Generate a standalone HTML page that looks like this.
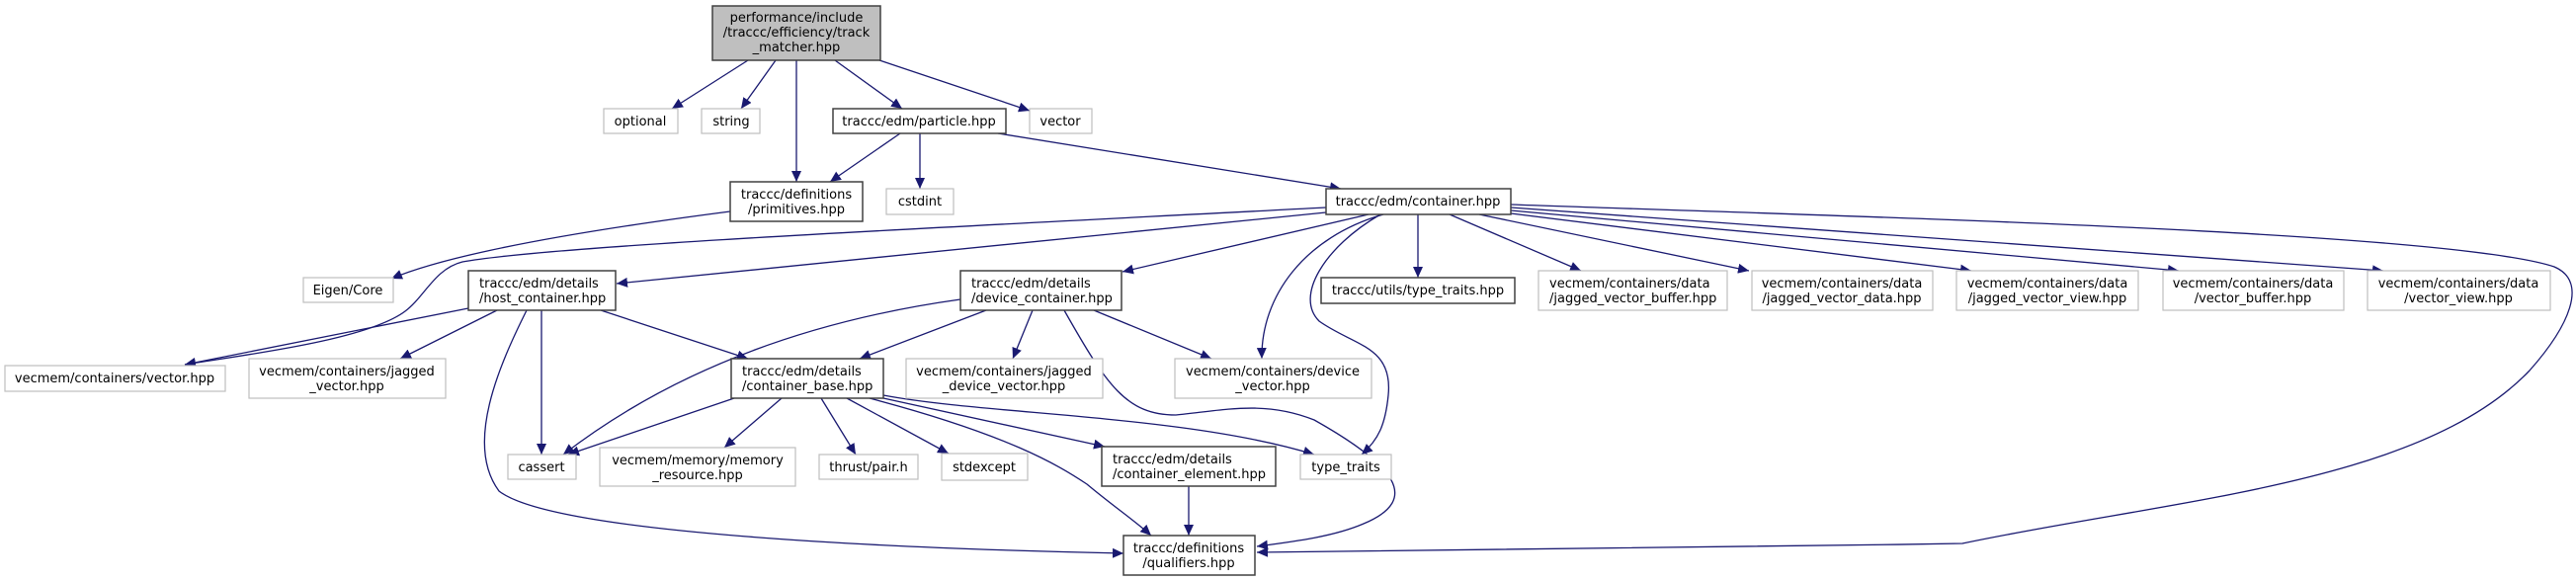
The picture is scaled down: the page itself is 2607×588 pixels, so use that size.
<!DOCTYPE html>
<html><head><meta charset="utf-8"><style>
html,body{margin:0;padding:0;background:#fff;}
svg{display:block;}
text{font-family:"DejaVu Sans","Liberation Sans",sans-serif;font-size:13px;fill:#000;}
.n{fill:#fff;stroke:#404040;stroke-width:1.5;}
.g{fill:#fff;stroke:#bfbfbf;stroke-width:1.2;}
.e{fill:none;stroke:#191970;stroke-width:1.3;}
</style></head><body>
<svg width="2607" height="588" viewBox="0 0 2607 588" xmlns="http://www.w3.org/2000/svg">
<defs>
<marker id="a" markerUnits="userSpaceOnUse" markerWidth="12" markerHeight="10" refX="11" refY="5" orient="auto">
<polygon points="0,0 11,5 0,10" fill="#191970"/>
</marker>
</defs>
<g marker-end="url(#a)" class="e">
<path class="e" d="M757,61 L680,110"/>
<path class="e" d="M785,61 L750,110"/>
<path class="e" d="M806,61 L806,184"/>
<path class="e" d="M845,61 L913,110"/>
<path class="e" d="M890,61 L1042,112"/>
<path class="e" d="M911,135 L840,184"/>
<path class="e" d="M931,135 L931,191"/>
<path class="e" d="M1010,135 L1357,191"/>
<path class="e" d="M739,214 C600,232 460,255 396,282"/>
<path class="e" d="M1342,210 C1000,228 560,248 468,265 C440,272 430,300 410,315 C370,345 240,360 187,369"/>
<path class="e" d="M1342,215 L624,287"/>
<path class="e" d="M1385,217 L1136,275"/>
<path class="e" d="M1400,217 C1320,240 1276,300 1277,363"/>
<path class="e" d="M1397,217 C1340,250 1310,300 1335,325 C1370,350 1410,350 1405,400 C1402,430 1395,445 1378,460"/>
<path class="e" d="M1435,217 L1435,281"/>
<path class="e" d="M1467,217 L1600,274"/>
<path class="e" d="M1497,217 L1770,274"/>
<path class="e" d="M1529,216 L1995,274"/>
<path class="e" d="M1529,213 L2205,274"/>
<path class="e" d="M1529,210 L2412,274"/>
<path class="e" d="M1529,207 C1900,220 2480,235 2585,270 C2620,285 2600,330 2560,375 C2450,490 2200,505 1986,550 C1700,555 1400,557 1272,559"/>
<path class="e" d="M474,312 L187,369"/>
<path class="e" d="M503,314 L405,363"/>
<path class="e" d="M548,314 L548,460"/>
<path class="e" d="M608,314 L757,363"/>
<path class="e" d="M533,314 C505,370 470,450 505,497 C560,540 900,555 1137,560"/>
<path class="e" d="M972,303 C850,320 700,360 570,460"/>
<path class="e" d="M998,314 L870,363"/>
<path class="e" d="M1045,314 L1025,363"/>
<path class="e" d="M1107,314 L1226,363"/>
<path class="e" d="M1077,314 C1120,390 1140,420 1190,420 C1240,415 1280,405 1330,425 C1410,470 1440,505 1380,530 C1350,543 1310,548 1272,553"/>
<path class="e" d="M743,403 L575,460"/>
<path class="e" d="M791,403 L733,453"/>
<path class="e" d="M831,403 L866,460"/>
<path class="e" d="M857,403 L960,459"/>
<path class="e" d="M894,403 L1118,452"/>
<path class="e" d="M894,400 C1000,420 1200,420 1330,460"/>
<path class="e" d="M880,403 C1020,440 1070,470 1100,490 C1130,515 1150,528 1165,542"/>
<path class="e" d="M1203,492 L1203,542"/>
</g>
<rect x="721" y="6" width="170" height="55" fill="#bfbfbf" stroke="#404040" stroke-width="1.5"/>
<text x="806" y="22" text-anchor="middle">performance/include</text>
<text x="806" y="37" text-anchor="middle">/traccc/efficiency/track</text>
<text x="806" y="52" text-anchor="middle">_matcher.hpp</text>

<rect class="g" x="611" y="110" width="75" height="25"/><text x="648" y="127" text-anchor="middle">optional</text>
<rect class="g" x="710" y="110" width="59" height="25"/><text x="740" y="127" text-anchor="middle">string</text>
<rect class="n" x="843" y="110" width="175" height="25"/><text x="930" y="127" text-anchor="middle">traccc/edm/particle.hpp</text>
<rect class="g" x="1042" y="110" width="63" height="25"/><text x="1073" y="127" text-anchor="middle">vector</text>

<rect class="n" x="739" y="184" width="134" height="40"/><text x="806" y="201" text-anchor="middle">traccc/definitions</text><text x="806" y="216" text-anchor="middle">/primitives.hpp</text>
<rect class="g" x="897" y="191" width="68" height="26"/><text x="931" y="208" text-anchor="middle">cstdint</text>
<rect class="n" x="1342" y="191" width="187" height="26"/><text x="1435" y="208" text-anchor="middle">traccc/edm/container.hpp</text>

<rect class="g" x="307" y="281" width="91" height="25"/><text x="352" y="298" text-anchor="middle">Eigen/Core</text>
<rect class="n" x="474" y="274" width="149" height="40"/><text x="485" y="291">traccc/edm/details</text><text x="485" y="306">/host_container.hpp</text>
<rect class="n" x="972" y="274" width="163" height="40"/><text x="983" y="291">traccc/edm/details</text><text x="983" y="306">/device_container.hpp</text>
<rect class="n" x="1337" y="281" width="196" height="26"/><text x="1435" y="298" text-anchor="middle">traccc/utils/type_traits.hpp</text>
<rect class="g" x="1557" y="274" width="191" height="40"/><text x="1568" y="291">vecmem/containers/data</text><text x="1568" y="306">/jagged_vector_buffer.hpp</text>
<rect class="g" x="1773" y="274" width="183" height="40"/><text x="1864" y="291" text-anchor="middle">vecmem/containers/data</text><text x="1864" y="306" text-anchor="middle">/jagged_vector_data.hpp</text>
<rect class="g" x="1980" y="274" width="184" height="40"/><text x="2072" y="291" text-anchor="middle">vecmem/containers/data</text><text x="2072" y="306" text-anchor="middle">/jagged_vector_view.hpp</text>
<rect class="g" x="2189" y="274" width="183" height="40"/><text x="2280" y="291" text-anchor="middle">vecmem/containers/data</text><text x="2280" y="306" text-anchor="middle">/vector_buffer.hpp</text>
<rect class="g" x="2396" y="274" width="185" height="40"/><text x="2488" y="291" text-anchor="middle">vecmem/containers/data</text><text x="2488" y="306" text-anchor="middle">/vector_view.hpp</text>

<rect class="g" x="5" y="370" width="223" height="26"/><text x="116" y="387" text-anchor="middle">vecmem/containers/vector.hpp</text>
<rect class="g" x="252" y="363" width="199" height="40"/><text x="351" y="380" text-anchor="middle">vecmem/containers/jagged</text><text x="351" y="395" text-anchor="middle">_vector.hpp</text>
<rect class="n" x="740" y="363" width="154" height="40"/><text x="751" y="380">traccc/edm/details</text><text x="751" y="395">/container_base.hpp</text>
<rect class="g" x="917" y="363" width="199" height="40"/><text x="1016" y="380" text-anchor="middle">vecmem/containers/jagged</text><text x="1016" y="395" text-anchor="middle">_device_vector.hpp</text>
<rect class="g" x="1189" y="363" width="199" height="40"/><text x="1288" y="380" text-anchor="middle">vecmem/containers/device</text><text x="1288" y="395" text-anchor="middle">_vector.hpp</text>

<rect class="g" x="514" y="460" width="69" height="25"/><text x="548" y="477" text-anchor="middle">cassert</text>
<rect class="g" x="607" y="453" width="198" height="39"/><text x="706" y="470" text-anchor="middle">vecmem/memory/memory</text><text x="706" y="485" text-anchor="middle">_resource.hpp</text>
<rect class="g" x="829" y="460" width="100" height="25"/><text x="879" y="477" text-anchor="middle">thrust/pair.h</text>
<rect class="g" x="953" y="459" width="87" height="27"/><text x="996" y="477" text-anchor="middle">stdexcept</text>
<rect class="n" x="1115" y="452" width="176" height="40"/><text x="1126" y="469">traccc/edm/details</text><text x="1126" y="484">/container_element.hpp</text>
<rect class="g" x="1316" y="460" width="92" height="25"/><text x="1362" y="477" text-anchor="middle">type_traits</text>

<rect class="n" x="1137" y="542" width="133" height="40"/><text x="1203" y="559" text-anchor="middle">traccc/definitions</text><text x="1203" y="574" text-anchor="middle">/qualifiers.hpp</text>
</svg>
</body></html>
